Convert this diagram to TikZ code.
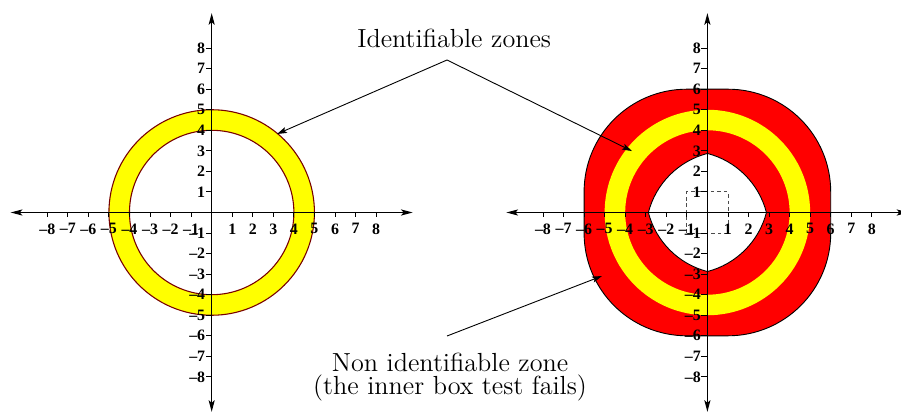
\documentclass[tikz,border=0pt]{standalone}
\usepackage{fontspec}
\newfontfamily\tickfont{Liberation Serif}
\usetikzlibrary{arrows.meta}
\definecolor{zred}{RGB}{255,0,0}
\definecolor{zyellow}{RGB}{255,255,0}
\definecolor{zborder}{RGB}{120,0,0}
\begin{document}
\begin{tikzpicture}[x=0.4cm,y=0.4cm,
  axisline/.style={line width=0.6pt,{Stealth[length=6.5pt,width=3.4pt,inset=1.5pt]}-{Stealth[length=6.5pt,width=3.4pt,inset=1.5pt]}},
  tickline/.style={line width=0.5pt},
  ticklabel/.style={font=\tickfont\bfseries\fontsize{8.8}{9}\selectfont,inner sep=0pt},
  annot/.style={line width=0.5pt,-{Stealth[length=5.5pt,width=3.4pt,inset=1.2pt]}},
  bigtext/.style={font=\fontsize{14.5}{12.6}\selectfont,inner sep=0pt,anchor=base,align=center},
  boxtest/.style={draw=black!70,dashed,dash pattern=on 2pt off 1.6pt,line width=0.5pt}]
\useasboundingbox (-10.30,-9.71) rectangle (33.54,10.34);

% ---------- left figure ----------
\begin{scope}
  \fill[zyellow,even odd rule] (0,0) circle (5) (0,0) circle (4);
  \draw[zborder,line width=0.6pt] (0,0) circle (5);
  \draw[zborder,line width=0.6pt] (0,0) circle (4);
  \draw[axisline] (-9.78,0) -- (9.78,0);
  \draw[axisline] (0,-9.7) -- (0,9.7);
  \foreach \i in {-8,...,-1,1,2,...,8}{
    \pgfmathtruncatemacro\a{abs(\i)}
    \draw[tickline] (\i,0) -- (\i,-0.22);
    \draw[tickline] (0,\i) -- (-0.3,\i);
    \node[ticklabel,anchor=north] (lx\a\ifnum\i<0 m\fi) at (\i,-0.52) {\ifnum\i<0 –\fi\a};
    \node[ticklabel,anchor=east] (ly\a\ifnum\i<0 m\fi) at (-0.3,\i) {\ifnum\i<0 –\fi\a};
  }
\end{scope}

% ---------- right figure ----------
\begin{scope}[shift={(24.12,0)}]
  \filldraw[fill=zred,draw=black,line width=0.5pt]
    (6,-1) -- (6,1) arc[start angle=0,end angle=90,radius=5]
    -- (-1,6) arc[start angle=90,end angle=180,radius=5]
    -- (-6,-1) arc[start angle=180,end angle=270,radius=5]
    -- (1,-6) arc[start angle=270,end angle=360,radius=5] -- cycle;
  \fill[zyellow,even odd rule] (0,0) circle (5) (0,0) circle (4);
  \filldraw[fill=white,draw=black,line width=0.5pt]
    (2.873,0) arc[start angle=14.48,end angle=75.52,radius=4]
    arc[start angle=104.48,end angle=165.52,radius=4]
    arc[start angle=194.48,end angle=255.52,radius=4]
    arc[start angle=284.48,end angle=345.52,radius=4] -- cycle;
  \draw[boxtest] (-1,-1) rectangle (1,1);
  \draw[axisline] (-9.78,0) -- (9.78,0);
  \draw[axisline] (0,-9.7) -- (0,9.7);
  \foreach \i in {-8,...,-1,1,2,...,8}{
    \pgfmathtruncatemacro\a{abs(\i)}
    \draw[tickline] (\i,0) -- (\i,-0.22);
    \draw[tickline] (0,\i) -- (-0.3,\i);
    \node[ticklabel,anchor=north] (rx\a\ifnum\i<0 m\fi) at (\i,-0.52) {\ifnum\i<0 –\fi\a};
    \node[ticklabel,anchor=east] (ry\a\ifnum\i<0 m\fi) at (-0.3,\i) {\ifnum\i<0 –\fi\a};
  }
\end{scope}

% ---------- annotations ----------
\node[bigtext] (idz) at (11.8,8.05) {Identifiable zones};
\coordinate (apex) at (11.45,7.42);
\coordinate (tipL) at (3.18,3.82);
\coordinate (tipR) at (20.45,2.99);
\draw[annot] (apex) -- (tipL);
\draw[annot] (apex) -- (tipR);

\node[bigtext] (nid) at (11.6,-8.86) {Non identifiable zone\\(the inner box test fails)};
\coordinate (nstart) at (11.45,-6.01);
\coordinate (ntip) at (18.99,-3.09);
\draw[annot] (nstart) -- (ntip);
\end{tikzpicture}
\end{document}
